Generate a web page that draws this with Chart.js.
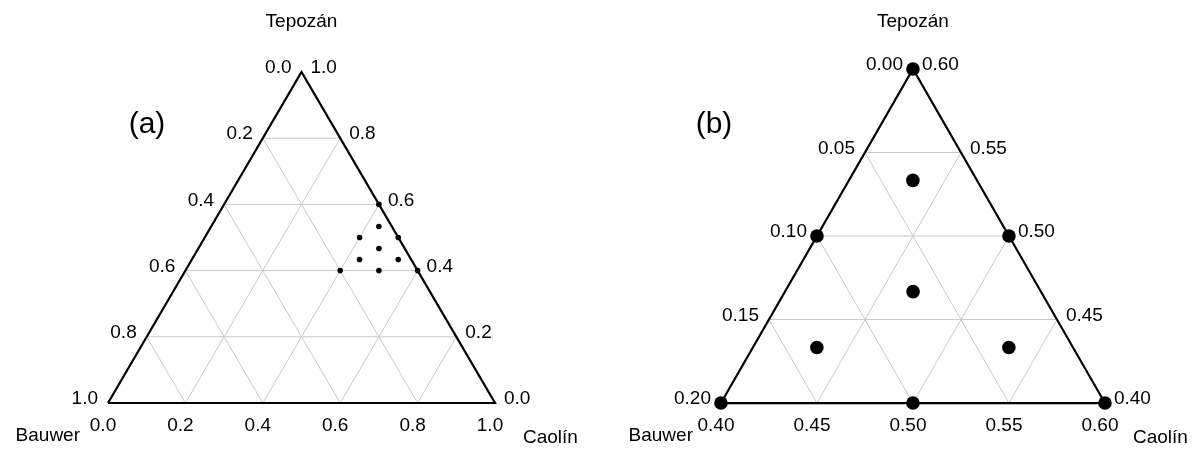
<!DOCTYPE html>
<html lang="en">
<head>
<meta charset="UTF-8">
<title>Ternary diagrams</title>
<script src="https://cdn.jsdelivr.net/npm/chart.js"></script>
<style>
    body { margin: 0; background: #fff; }
    .wrap { display: flex; width: 1200px; height: 450px; }
    .panel { width: 600px; height: 450px; }
</style>
</head>
<body>
<div class="wrap">
    <div class="panel"><canvas id="chartA" width="600" height="450"></canvas></div>
    <div class="panel"><canvas id="chartB" width="600" height="450"></canvas></div>
</div>

<script>
// mixture compositions (fractions), one entry per mix
const bauwer  = [0.00, 0.0333, 0.10, 0.00, 0.0667, 0.1333, 0.0333, 0.20, 0.10, 0.00];
const tepozan = [0.60, 0.5333, 0.50, 0.50, 0.4667, 0.4333, 0.4333, 0.40, 0.40, 0.40];
const caolin  = [0.40, 0.4333, 0.40, 0.50, 0.4667, 0.4333, 0.5333, 0.40, 0.50, 0.60];

// tick values, full diagram (a)
const ticksA = [0.0, 0.2, 0.4, 0.6, 0.8, 1.0];
// tick values, zoomed diagram (b)
const bauwerTicksB  = [0.00, 0.05, 0.10, 0.15, 0.20];
const tepozanTicksB = [0.40, 0.45, 0.50, 0.55, 0.60];
const caolinTicksB  = [0.40, 0.45, 0.50, 0.55, 0.60];

const FONT = '"Liberation Sans", Arial, sans-serif';

// ternary -> cartesian (x along Caolin axis, y = Tepozan)
function toXY(b, t, c) {
    return { x: c + t / 2, y: t };
}

function lineSet(pts, color, width, order) {
    return {
        type: 'line',
        data: pts,
        borderColor: color,
        borderWidth: width,
        pointRadius: 0,
        fill: false,
        order: order
    };
}

function buildPanel(id, opt) {
    const bMin = opt.bTicks[0], tMin = opt.tTicks[0], cMin = opt.cTicks[0];
    const datasets = [];
    const grid = '#c8c8c8';

    // inner grid lines
    opt.tTicks.slice(1, -1).forEach(v => {
        datasets.push(lineSet([toXY(1 - v - cMin, v, cMin), toXY(bMin, v, 1 - v - bMin)], grid, 1, 3));
    });
    opt.cTicks.slice(1, -1).forEach(v => {
        datasets.push(lineSet([toXY(1 - v - tMin, tMin, v), toXY(bMin, 1 - v - bMin, v)], grid, 1, 3));
    });
    opt.bTicks.slice(1, -1).forEach(v => {
        datasets.push(lineSet([toXY(v, tMin, 1 - v - tMin), toXY(v, 1 - v - cMin, cMin)], grid, 1, 3));
    });

    // triangle outline
    const bl = toXY(1 - tMin - cMin, tMin, cMin);
    const br = toXY(bMin, tMin, 1 - tMin - bMin);
    const top = toXY(bMin, 1 - bMin - cMin, cMin);
    datasets.push(lineSet([bl, br, top, bl], '#000', 2.2, 2));

    // mixtures
    datasets.push({
        type: 'scatter',
        data: bauwer.map((b, i) => toXY(b, tepozan[i], caolin[i])),
        backgroundColor: '#000',
        borderColor: '#000',
        borderWidth: 0,
        pointRadius: opt.radius,
        pointHoverRadius: opt.radius,
        order: 1
    });

    const labels = {
        id: 'ternaryLabels',
        afterDatasetsDraw(chart) {
            const ctx = chart.ctx;
            const xs = chart.scales.x, ys = chart.scales.y;
            const px = p => [xs.getPixelForValue(p.x), ys.getPixelForValue(p.y)];
            ctx.save();
            ctx.fillStyle = '#000';
            ctx.textBaseline = 'middle';
            ctx.font = '19px ' + FONT;

            // left axis: Bauwer
            ctx.textAlign = 'right';
            opt.bTicks.forEach(v => {
                const [x, y] = px(toXY(v, 1 - v - cMin, cMin));
                ctx.fillText(v.toFixed(opt.dec), x - 10, y - 4);
            });
            // right axis: Tepozan
            ctx.textAlign = 'left';
            opt.tTicks.forEach(v => {
                const [x, y] = px(toXY(bMin, v, 1 - v - bMin));
                ctx.fillText(v.toFixed(opt.dec), x + 9, y - 4);
            });
            // bottom axis: Caolin
            ctx.textAlign = 'center';
            opt.cTicks.forEach(v => {
                const [x, y] = px(toXY(1 - v - tMin, tMin, v));
                ctx.fillText(v.toFixed(opt.dec), x - 5, y + 23);
            });

            // component names
            const [tx] = px(top);
            const [lx, ly] = px(bl);
            const [rx, ry] = px(br);
            ctx.textAlign = 'center';
            ctx.fillText('Tepozán', tx, 22);
            ctx.textAlign = 'right';
            ctx.fillText('Bauwer', lx - 28, ly + 33);
            ctx.textAlign = 'left';
            ctx.fillText('Caolín', rx + 28, ry + 35);

            ctx.font = '30px ' + FONT;
            ctx.textAlign = 'center';
            ctx.fillText(opt.letter, opt.letterX, 125);
            ctx.restore();
        }
    };

    new Chart(document.getElementById(id), {
        type: 'scatter',
        data: { datasets: datasets },
        options: {
            responsive: false,
            animation: false,
            devicePixelRatio: 1,
            layout: { padding: 0, autoPadding: false },
            scales: {
                x: { type: 'linear', display: false, min: opt.xMin, max: opt.xMax },
                y: { type: 'linear', display: false, min: opt.yMin, max: opt.yMax }
            },
            plugins: { legend: { display: false }, tooltip: { enabled: false } }
        },
        plugins: [labels]
    });
}

buildPanel('chartA', {
    bTicks: ticksA, tTicks: ticksA, cTicks: ticksA,
    dec: 1, radius: 2.8, letter: '(a)', letterX: 147,
    xMin: -0.2791, xMax: 1.2713, yMin: -0.142, yMax: 1.2175
});

buildPanel('chartB', {
    bTicks: bauwerTicksB, tTicks: tepozanTicksB, cTicks: caolinTicksB,
    dec: 2, radius: 6.8, letter: '(b)', letterX: 114,
    xMin: 0.537, xMax: 0.8495, yMin: 0.3719, yMax: 0.6413
});
</script>
</body>
</html>
